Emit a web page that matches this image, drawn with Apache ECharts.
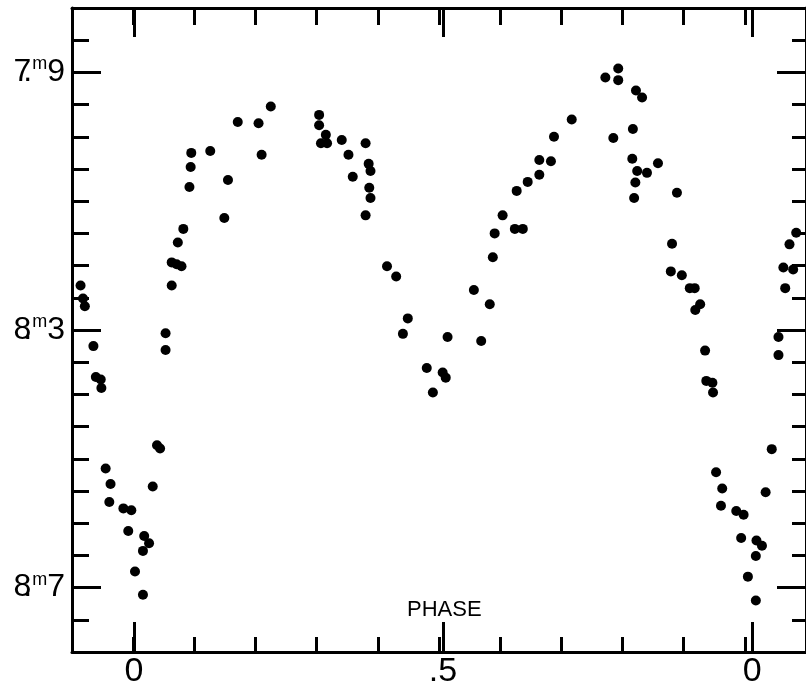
<!DOCTYPE html>
<html>
<head>
<meta charset="utf-8">
<script src="https://cdn.jsdelivr.net/npm/echarts@6/dist/echarts.min.js"></script>
<style>
html,body{margin:0;padding:0;background:#fff;}
#chart{width:806px;height:689px;}
</style>
</head>
<body>
<div id="chart"></div>
<script>
// Phase of each observation
var phases = [
 -0.086,-0.082,-0.079,-0.065,-0.061,-0.053,-0.052,-0.045,-0.037,-0.039,
 -0.016,-0.003,-0.008,0.018,0.026,0.016,0.003,0.016,0.032,0.039,
 0.044,0.053,0.053,0.063,0.063,0.071,0.079,0.073,0.082,0.092,
 0.094,0.095,0.126,0.149,0.155,0.171,0.205,0.210,0.225,0.304,
 0.304,0.315,0.307,0.317,0.341,0.352,0.359,0.380,0.385,0.388,
 0.386,0.388,0.380,0.415,0.430,0.449,0.441,0.514,0.480,0.506,
 0.511,0.490,0.569,0.557,0.583,0.588,0.591,0.604,0.624,0.637,
 0.627,0.645,0.664,0.664,0.683,0.688,0.717,0.772,0.793,0.793,
 0.822,0.832,0.785,0.817,0.816,0.824,0.840,0.858,0.821,0.819,
 0.889,0.881,0.879,0.897,0.910,0.918,0.927,0.919,0.935,0.937,
 0.947,0.948,0.953,0.963,0.961,0.986,0.998,0.994,1.019,1.028,
 1.018,1.005,1.018,1.034,1.044,1.055,1.055,1.066,1.063,1.079,
 1.073,1.084
];
// Magnitude of each observation
var mags = [
 8.231,8.251,8.263,8.325,8.373,8.377,8.390,8.515,8.539,8.567,
 8.577,8.580,8.612,8.620,8.631,8.643,8.675,8.711,8.543,8.479,
 8.484,8.305,8.331,8.231,8.195,8.198,8.201,8.164,8.143,8.078,
 8.047,8.025,8.022,8.126,8.067,7.977,7.979,8.028,7.953,7.966,
 7.982,7.997,8.010,8.010,8.005,8.028,8.062,8.010,8.042,8.053,
 8.079,8.095,8.122,8.201,8.217,8.282,8.306,8.311,8.359,8.366,
 8.374,8.397,8.317,8.238,8.260,8.187,8.150,8.122,8.143,8.143,
 8.084,8.070,8.059,8.036,8.038,8.000,7.973,7.908,7.894,7.912,
 7.928,7.939,8.002,7.988,8.034,8.053,8.056,8.041,8.071,8.095,
 8.087,8.166,8.209,8.215,8.235,8.235,8.260,8.269,8.332,8.379,
 8.382,8.397,8.521,8.546,8.573,8.581,8.587,8.623,8.627,8.635,
 8.651,8.683,8.720,8.552,8.485,8.339,8.311,8.235,8.203,8.206,
 8.167,8.149
];
// Labelled (major) ticks
var phaseTicks = [0, 0.5, 1.0];
var phaseTickLabels = ['0', '.5', '0'];
var magTicks = [7.9, 8.3, 8.7];

var points = phases.map(function (p, i) { return [p, mags[i]]; });

var FONT = 'Liberation Sans';
var black = '#000';
var lineW = 3;

var W = 806, H = 689;
var frame = { left: 72, right: -8, top: 8, bottom: 37 };
var xMin = -0.1, xMax = 1.1, yMin = 7.8, yMax = 8.8;
var plotW = W - frame.left - frame.right, plotH = H - frame.top - frame.bottom;
function xPix(v) { return frame.left + (v - xMin) / (xMax - xMin) * plotW; }
function yPix(v) { return frame.top + (v - yMin) / (yMax - yMin) * plotH; }

function phaseLabel(v) {
  for (var i = 0; i < phaseTicks.length; i++) {
    if (Math.abs(v - phaseTicks[i]) < 1e-6) return phaseTickLabels[i];
  }
  return '';
}
function magLabel(v) {
  var s = v.toFixed(1).split('.');
  return '{d|' + s[0] + '}{p|.}{s|m}{d|' + s[1] + '}';
}

function tickStyle(len) {
  return { show: true, inside: true, length: len, lineStyle: { color: black, width: lineW } };
}
var lineOn = { show: true, onZero: false, lineStyle: { color: black, width: lineW } };
var lineOff = { show: false, onZero: false };

// helper grids aligned with the major tick values of the main frame
var majorXGrid = {
  left: xPix(phaseTicks[0]), right: W - xPix(phaseTicks[phaseTicks.length - 1]),
  top: frame.top, bottom: frame.bottom
};
var majorYGrid = {
  left: frame.left, right: frame.right,
  top: yPix(magTicks[0]), bottom: H - yPix(magTicks[magTicks.length - 1])
};

var option = {
  backgroundColor: '#fff',
  animation: false,
  title: {
    text: 'PHASE', left: 407, top: 599, padding: 0,
    textStyle: { fontFamily: FONT, fontSize: 22, fontWeight: 'normal', color: black }
  },
  grid: [
    { left: frame.left, right: frame.right, top: frame.top, bottom: frame.bottom },
    majorXGrid, majorYGrid
  ],
  xAxis: [
    { type: 'value', gridIndex: 0, position: 'bottom', min: xMin, max: xMax, interval: 0.1,
      axisLine: lineOn, axisTick: tickStyle(15), axisLabel: { show: false }, splitLine: { show: false } },
    { type: 'value', gridIndex: 0, position: 'top', min: xMin, max: xMax, interval: 0.1,
      axisLine: lineOn, axisTick: tickStyle(17), axisLabel: { show: false }, splitLine: { show: false } },
    { type: 'value', gridIndex: 1, position: 'bottom', min: phaseTicks[0], max: phaseTicks[2], interval: 0.5,
      axisLine: lineOff, axisTick: tickStyle(30), splitLine: { show: false },
      axisLabel: { show: true, formatter: phaseLabel, margin: 3, fontFamily: FONT, fontSize: 34, color: black } },
    { type: 'value', gridIndex: 1, position: 'top', min: phaseTicks[0], max: phaseTicks[2], interval: 0.5,
      axisLine: lineOff, axisTick: tickStyle(29), axisLabel: { show: false }, splitLine: { show: false } },
    { type: 'value', gridIndex: 2, position: 'bottom', min: xMin, max: xMax, show: false }
  ],
  yAxis: [
    { type: 'value', gridIndex: 0, position: 'left', min: yMin, max: yMax, inverse: true, interval: 0.05,
      axisLine: lineOn, axisTick: tickStyle(17), axisLabel: { show: false }, splitLine: { show: false } },
    { type: 'value', gridIndex: 0, position: 'right', min: yMin, max: yMax, inverse: true, interval: 0.05,
      axisLine: lineOn, axisTick: tickStyle(14), axisLabel: { show: false }, splitLine: { show: false } },
    { type: 'value', gridIndex: 1, position: 'left', min: yMin, max: yMax, inverse: true, show: false },
    { type: 'value', gridIndex: 2, position: 'left', min: magTicks[0], max: magTicks[2], inverse: true, interval: 0.4,
      axisLine: lineOff, axisTick: tickStyle(29), splitLine: { show: false },
      axisLabel: {
        show: true, formatter: magLabel, margin: 7,
        rich: {
          d: { fontFamily: FONT, fontSize: 32, color: black, lineHeight: 34 },
          p: { fontFamily: FONT, fontSize: 32, color: black, width: 1, lineHeight: 34 },
          s: { fontFamily: FONT, fontSize: 18, color: black, verticalAlign: 'top', lineHeight: 4 }
        }
      } },
    { type: 'value', gridIndex: 2, position: 'right', min: magTicks[0], max: magTicks[2], inverse: true, interval: 0.4,
      axisLine: lineOff, axisTick: tickStyle(29), axisLabel: { show: false }, splitLine: { show: false } }
  ],
  series: [{
    type: 'scatter',
    xAxisIndex: 0, yAxisIndex: 0,
    data: points,
    symbol: 'circle',
    symbolSize: 10,
    itemStyle: { color: black, opacity: 1 },
    clip: false
  }]
};

var chart = echarts.init(document.getElementById('chart'), null, { renderer: 'canvas' });
chart.setOption(option);
</script>
</body>
</html>
